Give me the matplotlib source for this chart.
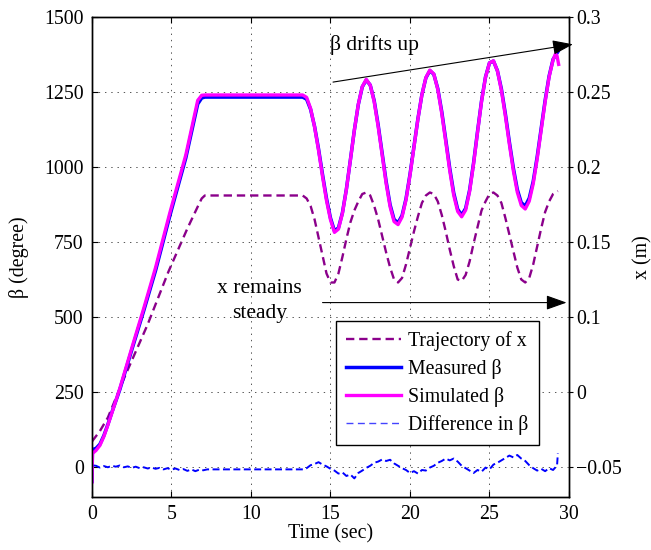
import matplotlib
matplotlib.use("Agg")
import matplotlib.pyplot as plt
from matplotlib.lines import Line2D

plt.rcParams["font.family"] = ["Liberation Serif", "DejaVu Serif"]
plt.rcParams["lines.scale_dashes"] = False

# trajectory of x (m), right axis
t_x = [0, 0.5, 1.0, 2.05, 3.5, 4.8, 6.0, 6.67, 6.9, 7.1, 13.0, 13.25,
       13.5, 13.75, 14.0, 14.25, 14.5, 14.75, 15.0, 15.25,
       15.5, 15.75, 16.0, 16.25, 16.5, 16.75, 17.0, 17.25,
       17.5, 17.75, 18.0, 18.25, 18.5, 18.75, 19.0, 19.25,
       19.5, 19.75, 20.0, 20.25, 20.5, 20.75, 21.0, 21.25,
       21.5, 21.75, 22.0, 22.25, 22.5, 22.75, 23.0, 23.25,
       23.5, 23.75, 24.0, 24.25, 24.5, 24.75, 25.0, 25.25,
       25.5, 25.75, 26.0, 26.25, 26.5, 26.75, 27.0, 27.25,
       27.5, 27.75, 28.0, 28.25, 28.5, 28.75, 29.0, 29.3]
x_traj = [0.017, 0.024, 0.033, 0.060, 0.095, 0.130, 0.159, 0.174, 0.179, 0.181, 0.181, 0.181,
          0.179, 0.174, 0.165, 0.153, 0.141, 0.129, 0.123, 0.123,
          0.129, 0.140, 0.152, 0.163, 0.171, 0.177, 0.182, 0.183,
          0.181, 0.174, 0.165, 0.154, 0.143, 0.133, 0.125, 0.123,
          0.126, 0.135, 0.146, 0.157, 0.167, 0.176, 0.181, 0.183,
          0.182, 0.177, 0.168, 0.157, 0.145, 0.134, 0.125, 0.124,
          0.128, 0.137, 0.149, 0.160, 0.171, 0.177, 0.182, 0.183,
          0.181, 0.176, 0.166, 0.155, 0.144, 0.133, 0.125, 0.123,
          0.126, 0.135, 0.147, 0.159, 0.170, 0.177, 0.182, 0.184]

# measured beta (degree)
t_meas = [0, 0.03, 0.25, 0.5, 0.75, 1.0, 1.25, 1.75, 2.5, 3.25, 4.0, 4.9, 5.9, 6.65, 6.9, 7.1, 13.0, 13.25,
          13.5, 13.75, 14.0, 14.25, 14.5, 14.75, 15.0, 15.25,
          15.5, 15.75, 16.0, 16.25, 16.5, 16.75, 17.0, 17.25,
          17.5, 17.75, 18.0, 18.25, 18.5, 18.75, 19.0, 19.25,
          19.5, 19.75, 20.0, 20.25, 20.5, 20.75, 21.0, 21.25,
          21.5, 21.75, 22.0, 22.25, 22.5, 22.75, 23.0, 23.25,
          23.5, 23.75, 24.0, 24.25, 24.5, 24.75, 25.0, 25.25,
          25.5, 25.75, 26.0, 26.25, 26.5, 26.75, 27.0, 27.25,
          27.5, 27.75, 28.0, 28.25, 28.5, 28.75, 29.0, 29.3]
beta_meas = [-48, 58, 62, 76, 105, 142, 182, 258, 390, 520, 655, 838, 1030, 1210, 1230, 1233, 1233, 1233,
             1226, 1192, 1135, 1060, 975, 895, 830, 787,
             797, 847, 926, 1023, 1122, 1208, 1267, 1290,
             1273, 1221, 1140, 1046, 952, 874, 825, 814,
             838, 894, 975, 1068, 1161, 1241, 1297, 1321,
             1309, 1261, 1184, 1091, 996, 914, 859, 840,
             862, 923, 1014, 1119, 1220, 1300, 1347, 1353,
             1321, 1260, 1177, 1084, 997, 925, 881, 870,
             896, 952, 1034, 1128, 1222, 1303, 1359, 1384]

# simulated beta (degree)
t_sim = [0, 0.03, 0.25, 0.5, 0.75, 1.0, 1.25, 1.75, 2.5, 3.25, 4.0, 4.9, 5.9, 6.65, 6.9, 7.1, 13.0, 13.25,
         13.5, 13.75, 14.0, 14.25, 14.5, 14.75, 15.0, 15.25,
         15.5, 15.75, 16.0, 16.25, 16.5, 16.75, 17.0, 17.25,
         17.5, 17.75, 18.0, 18.25, 18.5, 18.75, 19.0, 19.25,
         19.5, 19.75, 20.0, 20.25, 20.5, 20.75, 21.0, 21.25,
         21.5, 21.75, 22.0, 22.25, 22.5, 22.75, 23.0, 23.25,
         23.5, 23.75, 24.0, 24.25, 24.5, 24.75, 25.0, 25.25,
         25.5, 25.75, 26.0, 26.25, 26.5, 26.75, 27.0, 27.25,
         27.5, 27.75, 28.0, 28.25, 28.5, 28.75, 29.0, 29.15, 29.25, 29.35]
beta_sim = [-50, 45, 55, 72, 102, 140, 180, 262, 396, 528, 665, 848, 1040, 1222, 1239, 1240, 1240, 1240,
            1232, 1195, 1133, 1055, 968, 888, 824, 782,
            793, 845, 925, 1022, 1122, 1209, 1268, 1292,
            1273, 1217, 1134, 1040, 945, 867, 818, 808,
            833, 890, 972, 1066, 1160, 1241, 1298, 1323,
            1310, 1258, 1178, 1084, 988, 906, 852, 834,
            856, 918, 1010, 1116, 1218, 1299, 1347, 1354,
            1320, 1255, 1170, 1076, 988, 916, 872, 860,
            886, 944, 1027, 1122, 1217, 1300, 1357, 1377, 1370, 1342]

# difference in beta (degree)
t_diff = [0.1, 0.25, 0.5, 0.75, 1.0, 1.25, 1.5, 1.75, 2.0, 2.25, 2.5, 2.75, 3.0, 3.25, 3.5, 3.75,
          4.0, 4.25, 4.5, 4.75, 5.0, 5.25, 5.5, 5.75, 6.0, 6.25, 6.5, 6.75, 7.0, 7.25, 13.3,
          13.5, 13.75, 14.0, 14.25, 14.5, 14.75, 15.0, 15.25, 15.5, 15.75, 16.0, 16.25, 16.5, 16.75,
          17.0, 17.25, 17.5, 17.75, 18.0, 18.25, 18.5, 18.75, 19.0, 19.25, 19.5, 19.75, 20.0, 20.25,
          20.5, 20.75, 21.0, 21.25, 21.5, 21.75, 22.0, 22.25, 22.5, 22.75, 23.0, 23.25, 23.5, 23.75,
          24.0, 24.25, 24.5, 24.75, 25.0, 25.25, 25.5, 25.75, 26.0, 26.25, 26.5, 26.75, 27.0, 27.25,
          27.5, 27.75, 28.0, 28.25, 28.5, 28.75, 29.0, 29.25, 29.3]
beta_diff = [5, 4, -2, 3, -1, 4, 1, 5, -1, 2, -3, 1, -4, -1, -5, -2,
             -6, -3, -8, -4, -9, -5, -10, -7, -13, -8, -14, -9, -11, -8, -8,
             -4, 6, 10, 16, 8, 2, -6, -12, -22, -18, -30, -25, -38, -20,
             -12, -3, 4, 14, 18, 25, 20, 24, 12, 4, -4, -10, -20, -14,
             -22, -10, -12, -2, 4, 14, 20, 28, 22, 28, 18, 4, -4, -12,
             -20, -10, -16, -2, -8, 8, 14, 22, 30, 38, 32, 40, 28, 20,
             6, -4, -12, -6, -14, -4, -10, 5, 45]

x_ticks = [0, 5, 10, 15, 20, 25, 30]
beta_ticks = [0, 250, 500, 750, 1000, 1250, 1500]
xm_ticks = [0, 0.05, 0.1, 0.15, 0.2, 0.25, 0.3]
xm_labels = ["\u22120.05", "0", "0.1", "0.15", "0.2", "0.25", "0.3"]

FS = 14.3
FS_NOTE = 15.6
fig = plt.figure(figsize=(6.51, 5.5), dpi=100)
ax = fig.add_axes([0.1413, 0.0964, 0.7327, 0.8727])
ax2 = ax.twinx()
ax.set_zorder(ax2.get_zorder() + 1)
ax.patch.set_visible(False)

ax2.plot(t_x, x_traj, color="#8b008b", lw=1.7, dashes=(6, 3.5))
ax.plot(t_meas, beta_meas, color="#0000ff", lw=2.5)
ax.plot(t_sim, beta_sim, color="#ff00ff", lw=2.4)
ax.plot(t_diff, beta_diff, color="#0000ff", lw=1.4, dashes=(5, 2.5))

ax.set_xlim(0, 30)
ax.set_ylim(-100, 1500)
ax2.set_ylim(-0.02, 0.3)
ax.set_xticks(x_ticks)
ax.set_yticks(beta_ticks)
ax2.set_yticks(xm_ticks)
ax2.set_yticklabels(xm_labels)

ax.grid(True, color="#555555", lw=0.7, dashes=(1, 3.5))
ax.tick_params(direction="in", length=4, width=0.8, top=True, right=False, labelsize=FS, pad=6)
ax2.tick_params(direction="out", length=3, width=0.8, labelsize=FS, pad=2)
for a in (ax, ax2):
    for s in a.spines.values():
        s.set_linewidth(1.0)

ax.set_xlabel("Time (sec)", fontsize=FS, labelpad=0)
ax.set_ylabel("\u03b2 (degree)", fontsize=FS, labelpad=11)
ax2.set_ylabel("x (m)", fontsize=FS, labelpad=8)

ax.text(14.97, 1405, "\u03b2 drifts up", fontsize=FS_NOTE, ha="left", va="center")
ax.text(10.55, 553, "x remains\nsteady", fontsize=FS_NOTE, ha="center", va="center", linespacing=1.4)

head = dict(arrowstyle="-|>,head_length=0.9,head_width=0.32", mutation_scale=14,
            color="black", lw=0.8, shrinkA=0, shrinkB=0)
ax.annotate("", xy=(30.25, 1409), xytext=(15.16, 1283), arrowprops=head, annotation_clip=False)
ax.annotate("", xy=(29.85, 548), xytext=(14.5, 548), arrowprops=head, annotation_clip=False)

handles = [Line2D([], [], color="#8b008b", lw=1.7, dashes=(6, 3.5)),
           Line2D([], [], color="#0000ff", lw=2.5),
           Line2D([], [], color="#ff00ff", lw=2.4),
           Line2D([], [], color="#4444ff", lw=1.0, dashes=(5, 3.2))]
labels = ["Trajectory of x", "Measured \u03b2", "Simulated \u03b2", "Difference in \u03b2"]
leg = ax.legend(handles, labels, loc="upper left", bbox_to_anchor=(0.511, 0.366), fontsize=FS,
                frameon=True, fancybox=False, edgecolor="black", framealpha=1,
                handlelength=2.8, handletextpad=0.35, labelspacing=0.4, borderpad=0.5,
                borderaxespad=0)
leg.get_frame().set_linewidth(1.0)

fig.savefig("out.png", dpi=100)
